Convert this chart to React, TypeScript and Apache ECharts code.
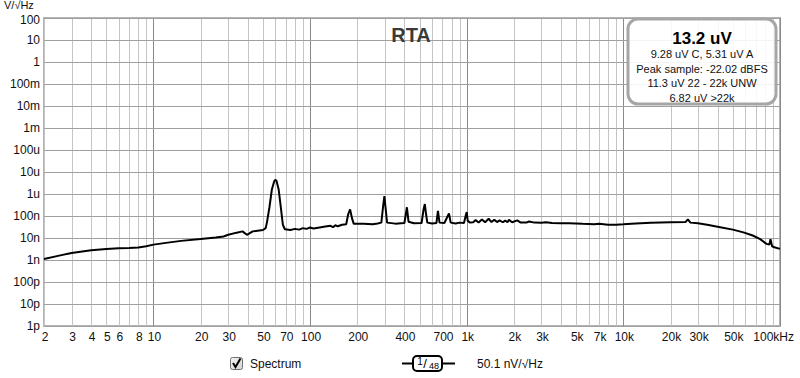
import React, { useEffect, useRef } from "react";
import * as echarts from "echarts";

// Spectrum (RTA, 1/48 octave), frequency in Hz and amplitude in V/√Hz
const freqHz = [
  2, 2.5, 3, 4, 5, 6, 7, 8, 9, 10, 12, 15, 20, 25, 28, 30, 34, 37, 39.5, 43, 50, 52,
  53, 55, 57, 59, 60, 61, 63, 65, 67, 69, 75, 80, 85, 90, 95, 100, 105, 115, 125, 135,
  140, 145, 150, 160, 170, 175, 180, 185, 190, 220, 250, 270, 285, 292, 298, 303, 310,
  350, 380, 400, 415, 425, 460, 515, 530, 540, 550, 560, 600, 640, 655, 670, 720, 770,
  790, 850, 900, 960, 990, 1000, 1015, 1050, 1100, 1140, 1190, 1250, 1310, 1380, 1440,
  1500, 1560, 1620, 1700, 1760, 1820, 1860, 1950, 2100, 2200, 2400, 2500, 2700, 3000,
  3200, 3500, 4000, 4500, 5500, 6500, 7000, 8000, 9000, 10000, 12000, 15000, 20000,
  25000, 25800, 26800, 30000, 35000, 41500, 50000, 58400, 67000, 74700, 82000, 85500,
  87000, 89000, 92000, 100000,
];
const spectrumV = [
  1.12e-9, 1.58e-9, 2.1e-9, 2.8e-9, 3.2e-9, 3.45e-9, 3.55e-9, 3.7e-9, 4.2e-9, 5.0e-9,
  6.0e-9, 7.4e-9, 8.9e-9, 1.05e-8, 1.17e-8, 1.4e-8, 1.75e-8, 2.0e-8, 1.4e-8, 2.0e-8,
  2.3e-8, 2.8e-8, 5.0e-8, 2.5e-7, 1.6e-6, 3.8e-6, 4.4e-6, 4.0e-6, 1.6e-6, 2.5e-7,
  4.0e-8, 2.5e-8, 2.3e-8, 2.6e-8, 2.4e-8, 2.8e-8, 2.6e-8, 3.0e-8, 2.7e-8, 3.0e-8,
  3.3e-8, 3.6e-8, 3.1e-8, 3.8e-8, 3.4e-8, 4.0e-8, 4.2e-8, 1.2e-7, 2.0e-7, 8.0e-8,
  4.4e-8, 4.4e-8, 4.2e-8, 4.6e-8, 5.0e-8, 2.5e-7, 8.0e-7, 2.5e-7, 5.0e-8, 4.5e-8,
  4.7e-8, 4.8e-8, 2.5e-7, 5.5e-8, 4.7e-8, 4.8e-8, 2.0e-7, 3.5e-7, 1.2e-7, 5.0e-8,
  4.6e-8, 4.8e-8, 1.7e-7, 5.0e-8, 4.8e-8, 1.3e-7, 5.0e-8, 4.6e-8, 5.0e-8, 4.8e-8,
  1.2e-7, 1.5e-7, 6.0e-8, 5.0e-8, 5.2e-8, 6.5e-8, 5.1e-8, 7.0e-8, 5.2e-8, 7.5e-8,
  5.3e-8, 6.8e-8, 5.3e-8, 6.3e-8, 5.2e-8, 6.2e-8, 5.2e-8, 6.7e-8, 5.2e-8, 6.3e-8,
  5.1e-8, 5.0e-8, 5.6e-8, 5.0e-8, 4.9e-8, 5.2e-8, 4.8e-8, 4.7e-8, 4.7e-8, 4.4e-8,
  4.2e-8, 4.4e-8, 4.0e-8, 4.0e-8, 4.2e-8, 4.6e-8, 4.9e-8, 5.2e-8, 5.4e-8, 7.0e-8,
  5.0e-8, 4.7e-8, 3.9e-8, 3.1e-8, 2.4e-8, 1.8e-8, 1.3e-8, 8.9e-9, 5.4e-9, 5.0e-9,
  8.7e-9, 4.2e-9, 3.8e-9, 3.2e-9,
];

const X_MIN = 2;
const X_MAX = 100000;
const Y_MIN = 1e-12;
const Y_MAX = 100;

const xTickValues = [
  2, 3, 4, 5, 6, 8, 10, 20, 30, 50, 70, 100, 200, 400, 700, 1000, 2000, 3000, 5000,
  7000, 10000, 20000, 30000, 50000, 100000,
];
const xTickLabels = [
  "2", "3", "4", "5", "6", "8", "10", "20", "30", "50", "70", "100", "200", "400", "700",
  "1k", "2k", "3k", "5k", "7k", "10k", "20k", "30k", "50k", "100kHz",
];
const yTickValues = [
  100, 10, 1, 1e-1, 1e-2, 1e-3, 1e-4, 1e-5, 1e-6, 1e-7, 1e-8, 1e-9, 1e-10, 1e-11, 1e-12,
];
const yTickLabels = [
  "100", "10", "1", "100m", "10m", "1m", "100u", "10u", "1u", "100n", "10n", "1n",
  "100p", "10p", "1p",
];
const decadeStarts = [1, 10, 100, 1000, 10000, 100000];

const titleText = "RTA";
const yUnit = "V/√Hz";
const totalText = "13.2 uV";
const infoLines = [
  "9.28 uV C, 5.31 uV A",
  "Peak sample: -22.02 dBFS",
  "11.3 uV 22 - 22k UNW",
  "6.82 uV >22k",
];
const legendName = "Spectrum";
const legendValue = "50.1 nV/√Hz";

const FONT = '"Liberation Sans", Arial, sans-serif';

export default function App() {
  const ref = useRef<HTMLDivElement>(null);

  useEffect(() => {
    if (!ref.current) return;
    const chart = echarts.init(ref.current, undefined, { renderer: "svg" });

    const vGrid: { v: number; major: boolean }[] = [];
    decadeStarts.forEach((d) => {
      for (let m = 1; m <= 9; m++) {
        const v = m * d;
        if (v >= X_MIN && v <= X_MAX) vGrid.push({ v, major: m === 1 });
      }
    });

    const specData = freqHz.map((f, i) => [f, spectrumV[i]]);

    const option: any = {
      animation: false,
      backgroundColor: "#ffffff",
      grid: {
        left: 44,
        top: 18,
        right: 20,
        bottom: 52,
        show: true,
        borderColor: "#b4b4b4",
        borderWidth: 2,
        backgroundColor: "#ffffff",
      },
      xAxis: {
        type: "log",
        logBase: 10,
        min: X_MIN,
        max: X_MAX,
        axisLine: { show: false },
        axisTick: { show: false },
        axisLabel: { show: false },
        splitLine: { show: false },
      },
      yAxis: {
        type: "log",
        logBase: 10,
        min: Y_MIN,
        max: Y_MAX,
        axisLine: { show: false },
        axisTick: { show: false },
        axisLabel: { show: false },
        splitLine: { show: false },
      },
      series: [
        {
          type: "custom",
          name: "vgrid",
          silent: true,
          clip: false,
          z: 1,
          data: vGrid.map((g) => [g.v, 1, g.major ? 1 : 0]),
          encode: { x: 0, y: 1 },
          renderItem: (params: any, api: any) => {
            const v = api.value(0);
            const a = api.coord([v, Y_MAX]);
            const b = api.coord([v, Y_MIN]);
            const x = Math.round(a[0]) + 0.5;
            const major = api.value(2) === 1;
            return {
              type: "line",
              shape: { x1: x, y1: a[1], x2: x, y2: b[1] },
              style: { stroke: major ? "#8a8a8a" : "#c4c4c4", lineWidth: 1 },
            };
          },
        },
        {
          type: "custom",
          name: "hgrid",
          silent: true,
          clip: false,
          z: 1,
          data: yTickValues.map((v) => [X_MIN, v]),
          encode: { x: 0, y: 1 },
          renderItem: (params: any, api: any) => {
            const v = api.value(1);
            const a = api.coord([X_MIN, v]);
            const b = api.coord([X_MAX, v]);
            const y = Math.round(a[1]) + 0.5;
            return {
              type: "line",
              shape: { x1: a[0], y1: y, x2: b[0], y2: y },
              style: { stroke: "#a0a0a0", lineWidth: 1 },
            };
          },
        },
        {
          type: "custom",
          name: "xlabels",
          silent: true,
          clip: false,
          z: 3,
          data: xTickValues.map((v) => [v, Y_MIN]),
          encode: { x: 0, y: 1 },
          renderItem: (params: any, api: any) => {
            const p = api.coord([api.value(0), Y_MIN]);
            const txt = xTickLabels[params.dataIndex];
            const last = params.dataIndex === xTickLabels.length - 1;
            return {
              type: "text",
              x: last ? p[0] + 14 : p[0] + 1,
              y: p[1] + 5,
              style: {
                text: txt,
                fill: "#111",
                font: `12px ${FONT}`,
                align: last ? "right" : "center",
                verticalAlign: "top",
              },
            };
          },
        },
        {
          type: "custom",
          name: "ylabels",
          silent: true,
          clip: false,
          z: 3,
          data: yTickValues.map((v) => [X_MIN, v]),
          encode: { x: 0, y: 1 },
          renderItem: (params: any, api: any) => {
            const p = api.coord([X_MIN, api.value(1)]);
            return {
              type: "text",
              x: p[0] - 4,
              y: params.dataIndex === 0 ? p[1] + 1.5 : p[1],
              style: {
                text: yTickLabels[params.dataIndex],
                fill: "#111",
                font: `12px ${FONT}`,
                align: "right",
                verticalAlign: "middle",
              },
            };
          },
        },
        {
          type: "line",
          name: legendName,
          data: specData,
          showSymbol: false,
          symbol: "none",
          z: 5,
          lineStyle: { color: "#000000", width: 2 },
        },
      ],
      graphic: [
        {
          type: "text",
          left: 4,
          top: -1,
          z: 20,
          style: { text: yUnit, fill: "#111", font: `11px ${FONT}` },
        },
        {
          type: "text",
          x: 411,
          y: 35,
          z: 20,
          style: {
            text: titleText,
            fill: "#3a3a3a",
            font: `bold 20px ${FONT}`,
            align: "center",
            verticalAlign: "middle",
          },
        },
        {
          type: "rect",
          z: 20,
          shape: { x: 628, y: 19, width: 148, height: 85, r: 10 },
          style: { fill: "rgba(255,255,255,0.88)", stroke: "#a6a6a6", lineWidth: 3 },
        },
        {
          type: "text",
          x: 702,
          y: 38,
          z: 21,
          style: {
            text: totalText,
            fill: "#000",
            font: `bold 17px ${FONT}`,
            align: "center",
            verticalAlign: "middle",
          },
        },
        ...infoLines.map((t, i) => ({
          type: "text",
          x: 702,
          y: 54 + i * 14.5,
          z: 21,
          style: {
            text: t,
            fill: "#111",
            font: `11px ${FONT}`,
            align: "center",
            verticalAlign: "middle",
          },
        })),
        // legend: checkbox
        {
          type: "rect",
          z: 20,
          shape: { x: 230.5, y: 357.5, width: 12, height: 12, r: 2 },
          style: {
            fill: new echarts.graphic.LinearGradient(0, 0, 1, 1, [
              { offset: 0, color: "#f4f4f4" },
              { offset: 1, color: "#d4d4d4" },
            ]),
            stroke: "#707070",
            lineWidth: 1,
          },
        },
        {
          type: "polyline",
          z: 21,
          shape: { points: [[233, 363], [235.5, 367], [240.5, 358.5]] },
          style: { stroke: "#000", lineWidth: 2, fill: "none" },
        },
        {
          type: "text",
          x: 250,
          y: 364,
          z: 20,
          style: {
            text: legendName,
            fill: "#111",
            font: `12px ${FONT}`,
            verticalAlign: "middle",
          },
        },
        // legend: line sample with smoothing badge
        {
          type: "line",
          z: 20,
          shape: { x1: 402, y1: 363.5, x2: 455, y2: 363.5 },
          style: { stroke: "#000", lineWidth: 2 },
        },
        {
          type: "rect",
          z: 21,
          shape: { x: 413, y: 356, width: 29, height: 15, r: 4 },
          style: { fill: "#fff", stroke: "#000", lineWidth: 2 },
        },
        {
          type: "text",
          x: 420,
          y: 361,
          z: 22,
          style: { text: "1", fill: "#000", font: `10px ${FONT}`, align: "center", verticalAlign: "middle" },
        },
        {
          type: "text",
          x: 425,
          y: 363.5,
          z: 22,
          style: { text: "/", fill: "#000", font: `13px ${FONT}`, align: "center", verticalAlign: "middle" },
        },
        {
          type: "text",
          x: 434,
          y: 366,
          z: 22,
          style: { text: "48", fill: "#000", font: `9px ${FONT}`, align: "center", verticalAlign: "middle" },
        },
        {
          type: "text",
          x: 477,
          y: 364,
          z: 20,
          style: {
            text: legendValue,
            fill: "#111",
            font: `12px ${FONT}`,
            verticalAlign: "middle",
          },
        },
      ],
    };

    chart.setOption(option);
    return () => {
      chart.dispose();
    };
  }, []);

  return (
    <div
      ref={ref}
      style={{ position: "absolute", left: 0, top: 0, width: 800, height: 378 }}
    />
  );
}
